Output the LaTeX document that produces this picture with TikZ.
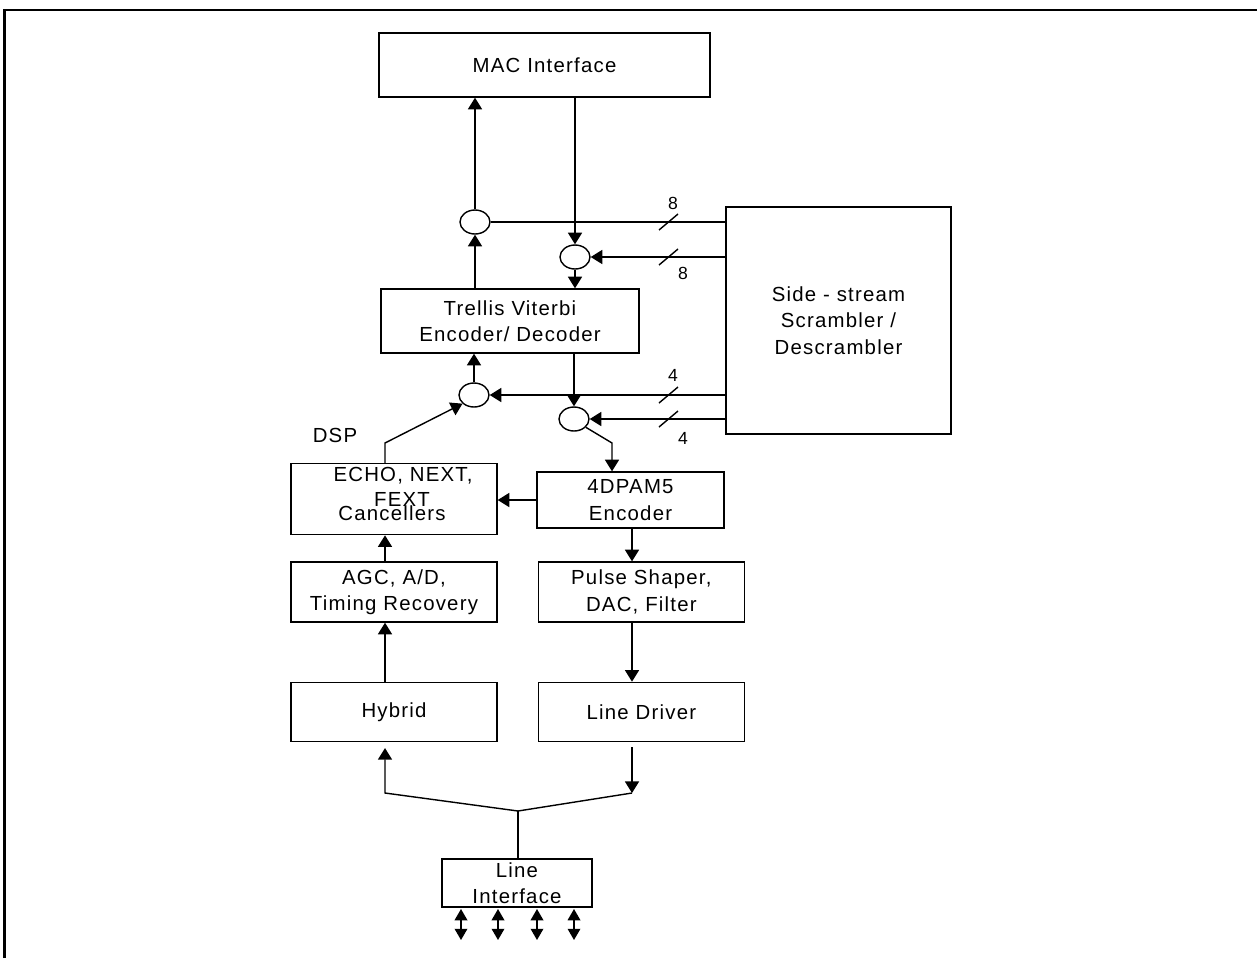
\documentclass[tikz,border=0pt]{standalone}
\usepackage{fontspec}
\setmainfont{Liberation Sans}[LetterSpace=6]
\usetikzlibrary{positioning,shapes.geometric,arrows.meta}

\begin{document}
\begin{tikzpicture}[x=0.02cm, y=-0.02cm, line width=0.8pt,
    font=\fontsize{11.6}{15}\selectfont]
  \tikzstyle{box}=[draw, rectangle, align=center, inner sep=0pt]
  \tikzstyle{dot}=[draw, ellipse, minimum width=0.6cm, minimum height=0.48cm, inner sep=0pt]
  \tikzstyle{arr}=[-{Triangle[length=6.6pt,width=8pt]}]
  \tikzstyle{darr}=[{Triangle[length=6.4pt,width=7.2pt]}-{Triangle[length=6.4pt,width=7.2pt]}]
  \tikzstyle{num}=[font=\fontsize{10}{12}\selectfont]
  \useasboundingbox (0,0) rectangle (1257,958);
  \draw [line width=1.4pt] (4.5,958) -- (4.5,10) -- (1257,10);
  % upper nodes
  \node (mac) [box, minimum width=6.62cm, minimum height=1.28cm] at (544.5,65) {MAC Interface};
  \node (tv) [box, minimum width=5.16cm, minimum height=1.28cm] at (510,321) {Trellis Viterbi\\Encoder/ Decoder};
  \node (scr) [box, minimum width=4.5cm, minimum height=4.54cm] at (838.5,320.5) {Side - stream\\Scrambler /\\Descrambler};
  \node (ca) [dot] at (475,222) {};
  \node (cb) [dot] at (575,257) {};
  \node (cc) [dot] at (474,395) {};
  \node (cd) [dot] at (574,419) {};
  % bus widths
  \foreach \y in {222,257,395,419} \draw (668.5,\y) +(-9.5,8) -- +(9.5,-8);
  \node (wa) [num] at (673,203) {8};
  \node (wb) [num] at (683,273) {8};
  \node (wc) [num] at (673,375) {4};
  \node (wd) [num] at (683,438) {4};
  % lower nodes
  \node (agc) [box, minimum width=4.12cm, minimum height=1.2cm] at (394,592) {AGC, A/D,\\Timing Recovery};
  \node (pulse) [box, minimum width=4.12cm, minimum height=1.2cm, right=0.8cm of agc] {Pulse Shaper,\\DAC, Filter};
  \node (echo) [box, minimum width=4.12cm, minimum height=1.42cm, above=0.52cm of agc] {};
  \node (dpam) [box, minimum width=3.74cm, minimum height=1.12cm] at (630.5,500) {4DPAM5\\Encoder};
  \node (hyb) [box, minimum width=4.12cm, minimum height=1.18cm, below=1.18cm of agc] {Hybrid};
  \node (ldrv) [box, minimum width=4.12cm, minimum height=1.18cm, right=0.8cm of hyb] {Line Driver};
  \node (lif) [box, minimum width=3cm, minimum height=0.96cm] at (517,883) {Line\\Interface};
  \node (t1) at (403,476) {ECHO, NEXT,};
  \node (t2) at (402,499) {FEXT};
  \node (t3) at (392,513) {Cancellers};
  \node (dsp) at (335,435) {DSP};
  % column lines
  \coordinate (lx) at (385,0);
  \coordinate (rx) at (632,0);
  \coordinate (dk) at (612,443);
  \coordinate (ek) at (385,443);
  \coordinate (jn) at (518,811);
  \coordinate (hc) at (385,793);
  \coordinate (dc) at (632,793);
  % connectors
  \draw [arr] (tv.north -| ca) -- (ca.south);
  \draw [arr] (ca.north) -- (ca.north |- mac.south);
  \draw [arr] (mac.south -| cb) -- (cb.north);
  \draw [arr] (cb.south) -- (cb.south |- tv.north);
  \draw (ca.east) -- (ca.east -| scr.west);
  \draw [arr] (cb.east -| scr.west) -- (cb.east);
  \draw [arr] (cc.east -| scr.west) -- (cc.east);
  \draw [arr] (cd.east -| scr.west) -- (cd.east);
  \draw [arr] (cc.north) -- (cc.north |- tv.south);
  \draw [arr] (tv.south -| cd) -- (cd.north);
  \draw [arr] (cd.-35) -- (dk) -- (dk |- dpam.north);
  \draw [arr] (echo.north -| ek) -- (ek) -- (cc.217);
  \draw [arr] (dpam.west) -- (dpam.west -| echo.east);
  \draw [arr] (dpam.south -| rx) -- (pulse.north -| rx);
  \draw [arr] (pulse.south -| rx) -- (ldrv.north -| rx);
  \draw [arr] (agc.north -| lx) -- (echo.south -| lx);
  \draw [arr] (hyb.north -| lx) -- (agc.south -| lx);
  \draw [arr, shorten <=2.8pt] (ldrv.south -| rx) -- (dc);
  \draw (dc) -- (jn);
  \draw [arr, shorten >=3.4pt] (jn) -- (hc) -- (hyb.south -| hc);
  \draw (jn) -- (lif.north -| jn);
  \foreach \x in {461,498,537,574} \draw [darr] (\x,909) -- (\x,940);
\end{tikzpicture}
\end{document}
